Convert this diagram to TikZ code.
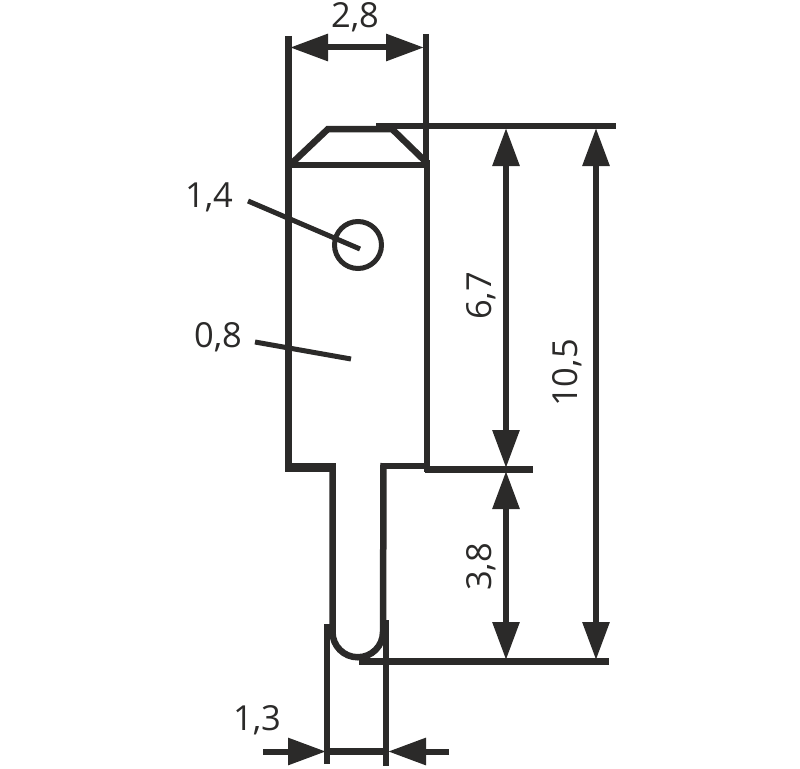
\documentclass[tikz,border=0pt]{standalone}
\usepackage{fontspec}
\setmainfont{Open Sans}
\usetikzlibrary{arrows.meta}
\definecolor{ink}{HTML}{2B2A29}
\tikzset{
  lin/.style={draw=ink,line width=6.5pt},
  thin/.style={draw=ink,line width=5pt},
  dimarrow/.style={draw=ink,line width=6pt,{Triangle[length=38pt,width=26pt]}-{Triangle[length=38pt,width=26pt]}},
  tipin/.style={draw=ink,line width=6pt,-{Triangle[length=38pt,width=26pt]}},
  lab/.style={text=ink,font=\fontsize{34.5}{34.5}\selectfont,inner sep=0pt},
}
\begin{document}
\begin{tikzpicture}[x=1pt,y=-1pt]
\useasboundingbox (0,0) rectangle (800,768);
% body
\draw[lin] (288.5,36) -- (288.5,470);
\draw[lin] (426,34) -- (426,160);
\draw[lin] (427,160) -- (427,472);
\draw[lin] (288,165) -- (430,165);
\draw[lin,line join=miter] (290,165) -- (328,129) -- (392,129) -- (427,163);
\draw[draw=ink,line width=9pt] (285,467.5) -- (332,467.5);
\draw[lin] (332.5,463) -- (332.5,632) arc[start angle=180,end angle=0,radius=25.25] -- (383.5,463);
\draw[lin] (380.5,466) -- (429,466);
% extension lines
\draw[lin] (376,126) -- (616,126);
\draw[lin] (425,469.5) -- (533,469.5);
\draw[lin] (359,661.5) -- (609,661.5);
\draw[lin] (327,624) -- (327,764);
\draw[lin] (386,620) -- (386,766);
% hole and leaders
\node[circle,draw=ink,line width=5pt,minimum size=47pt,inner sep=0pt] (hole) at (358,245) {};
\coordinate (l1a) at (248,201); \coordinate (l1b) at (360,249);
\coordinate (l2a) at (255,342); \coordinate (l2b) at (351,359);
\draw[thin] (l1a) -- (l1b);
\draw[thin] (l2a) -- (l2b);
% dimensions
\draw[dimarrow] (290,47.5) -- (424,47.5);
\draw[dimarrow] (506,128) -- (506,468);
\draw[dimarrow] (506,471) -- (506,660);
\draw[dimarrow] (596,128) -- (596,660);
\coordinate (a1) at (263,751.5); \coordinate (a2) at (326,751.5);
\coordinate (b1) at (449,751.5); \coordinate (b2) at (388,751.5);
\draw[tipin] (a1) -- (a2);
\draw[tipin] (b1) -- (b2);
\draw[lin] (327,751.5) -- (386,751.5);
% labels
\node[lab] (t28) at (355,17) {2,8};
\node[lab] (t14) at (209,197) {1,4};
\node[lab] (t08) at (218,337) {0,8};
\node[lab] (t13) at (257,720) {1,3};
\node[lab,rotate=90] (t67) at (481,296) {6,7};
\node[lab,rotate=90] (t38) at (481,567) {3,8};
\node[lab,rotate=90] (t105) at (567,373) {10,5};
\end{tikzpicture}
\end{document}
